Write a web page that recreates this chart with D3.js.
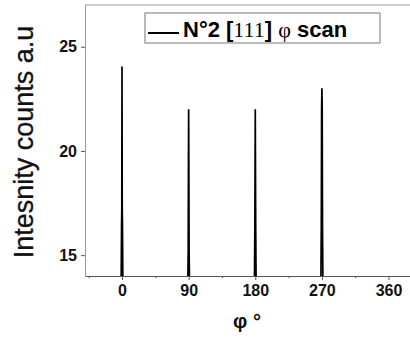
<!DOCTYPE html>
<html><head><meta charset="utf-8">
<script src="https://cdn.jsdelivr.net/npm/d3@7"></script>
<style>
body{margin:0;background:#fff;}
svg{display:block;font-family:"Liberation Sans",Arial,sans-serif;}
</style></head>
<body>
<svg id="chart" width="410" height="341"></svg>
<script>
// ---- data ----
const phi = [-50, -1.2, -0.6, -0.3, 0, 0.3, 0.6, 1.2,
             88.8, 89.4, 89.7, 90, 90.3, 90.6, 91.2,
             178.8, 179.4, 179.7, 180, 180.3, 180.6, 181.2,
             268.6, 269.2, 269.6, 270, 270.4, 270.8, 271.4, 390];
const intensity = [13.5, 13.5, 16.5, 17.2, 24.05, 17.2, 16.5, 13.5,
                   13.5, 15.2, 19, 22.0, 19, 15.2, 13.5,
                   13.5, 16.2, 19, 22.0, 19, 16.2, 13.5,
                   13.5, 16.5, 22, 23.0, 22, 16.5, 13.5, 13.5];
const xTicks = [0, 90, 180, 270, 360];
const xMinor = [-45, 45, 135, 225, 315];
const yTicks = [15, 20, 25];
const yLabel = "Intesnity counts a.u";
const xLabel = "φ °";

// ---- layout ----
const L = 85, R = 410, T = 5, B = 276;
const x = d3.scaleLinear().domain([-50, 389]).range([L, R]);
const y = d3.scaleLinear().domain([14, 27]).range([B, T]);
const svg = d3.select("#chart");

svg.append("clipPath").attr("id","clip").append("rect")
  .attr("x", L).attr("y", T).attr("width", R-L).attr("height", B-T);

// frame top line
svg.append("line").attr("x1", L).attr("x2", R).attr("y1", T).attr("y2", T)
  .attr("stroke", "#999").attr("stroke-width", 1);

// data
const pts = phi.map((p,i)=>[p, intensity[i]]);
svg.append("path").attr("clip-path","url(#clip)")
  .attr("d", d3.line().x(d=>x(d[0])).y(d=>y(d[1]))(pts))
  .attr("fill","none").attr("stroke","#000").attr("stroke-width",1.7)
  .attr("stroke-linejoin","miter").attr("stroke-miterlimit",1);

// axes
const xAxis = svg.append("g").attr("transform",`translate(0,${B})`)
  .call(d3.axisBottom(x).tickValues(xTicks).tickSize(4).tickSizeOuter(0).tickPadding(5));
xAxis.select(".domain").attr("stroke","#555").attr("stroke-width",1.2);
xAxis.selectAll(".tick line").attr("stroke","#555");
xAxis.selectAll("text").attr("font-size",16).attr("font-weight","bold").attr("fill","#111")
  .attr("font-family","Liberation Sans, Arial, sans-serif");
svg.append("g").attr("transform",`translate(0,${B})`)
  .call(d3.axisBottom(x).tickValues(xMinor).tickSize(2).tickFormat(""))
  .call(g=>g.select(".domain").remove())
  .selectAll(".tick line").attr("stroke","#555");

const yAxis = svg.append("g").attr("transform",`translate(${L},0)`)
  .call(d3.axisLeft(y).tickValues(yTicks).tickSize(4).tickSizeOuter(0).tickPadding(4));
yAxis.select(".domain").attr("stroke","#999").attr("stroke-width",1);
yAxis.selectAll(".tick line").attr("stroke","#555");
yAxis.selectAll("text").attr("font-size",16).attr("font-weight","bold").attr("fill","#111")
  .attr("font-family","Liberation Sans, Arial, sans-serif");

// axis titles
svg.append("text").attr("transform",`translate(33,142) rotate(-90)`)
  .attr("text-anchor","middle").attr("font-size",27).attr("fill","#111")
  .attr("stroke","#111").attr("stroke-width",0.3)
  .text(yLabel);
svg.append("text").attr("x",247).attr("y",328).attr("text-anchor","middle")
  .attr("font-size",20).attr("font-weight","bold").attr("fill","#111")
  .text(xLabel);

// legend
svg.append("rect").attr("x",145).attr("y",13).attr("width",235).attr("height",30)
  .attr("fill","#fff").attr("stroke","#777").attr("stroke-width",1);
svg.append("line").attr("x1",148).attr("x2",179).attr("y1",33).attr("y2",33)
  .attr("stroke","#000").attr("stroke-width",2);
const lt = svg.append("text").attr("x",183).attr("y",37).attr("font-size",22).attr("fill","#000");
lt.append("tspan").attr("font-weight","bold").text("N°2 [");
lt.append("tspan").attr("font-family","Liberation Serif, Times New Roman, serif").text("111");
lt.append("tspan").attr("font-weight","bold").text("] ");
lt.append("tspan").attr("font-family","Liberation Serif, Times New Roman, serif").text("φ");
lt.append("tspan").attr("font-weight","bold").text(" scan");
</script>
</body></html>
